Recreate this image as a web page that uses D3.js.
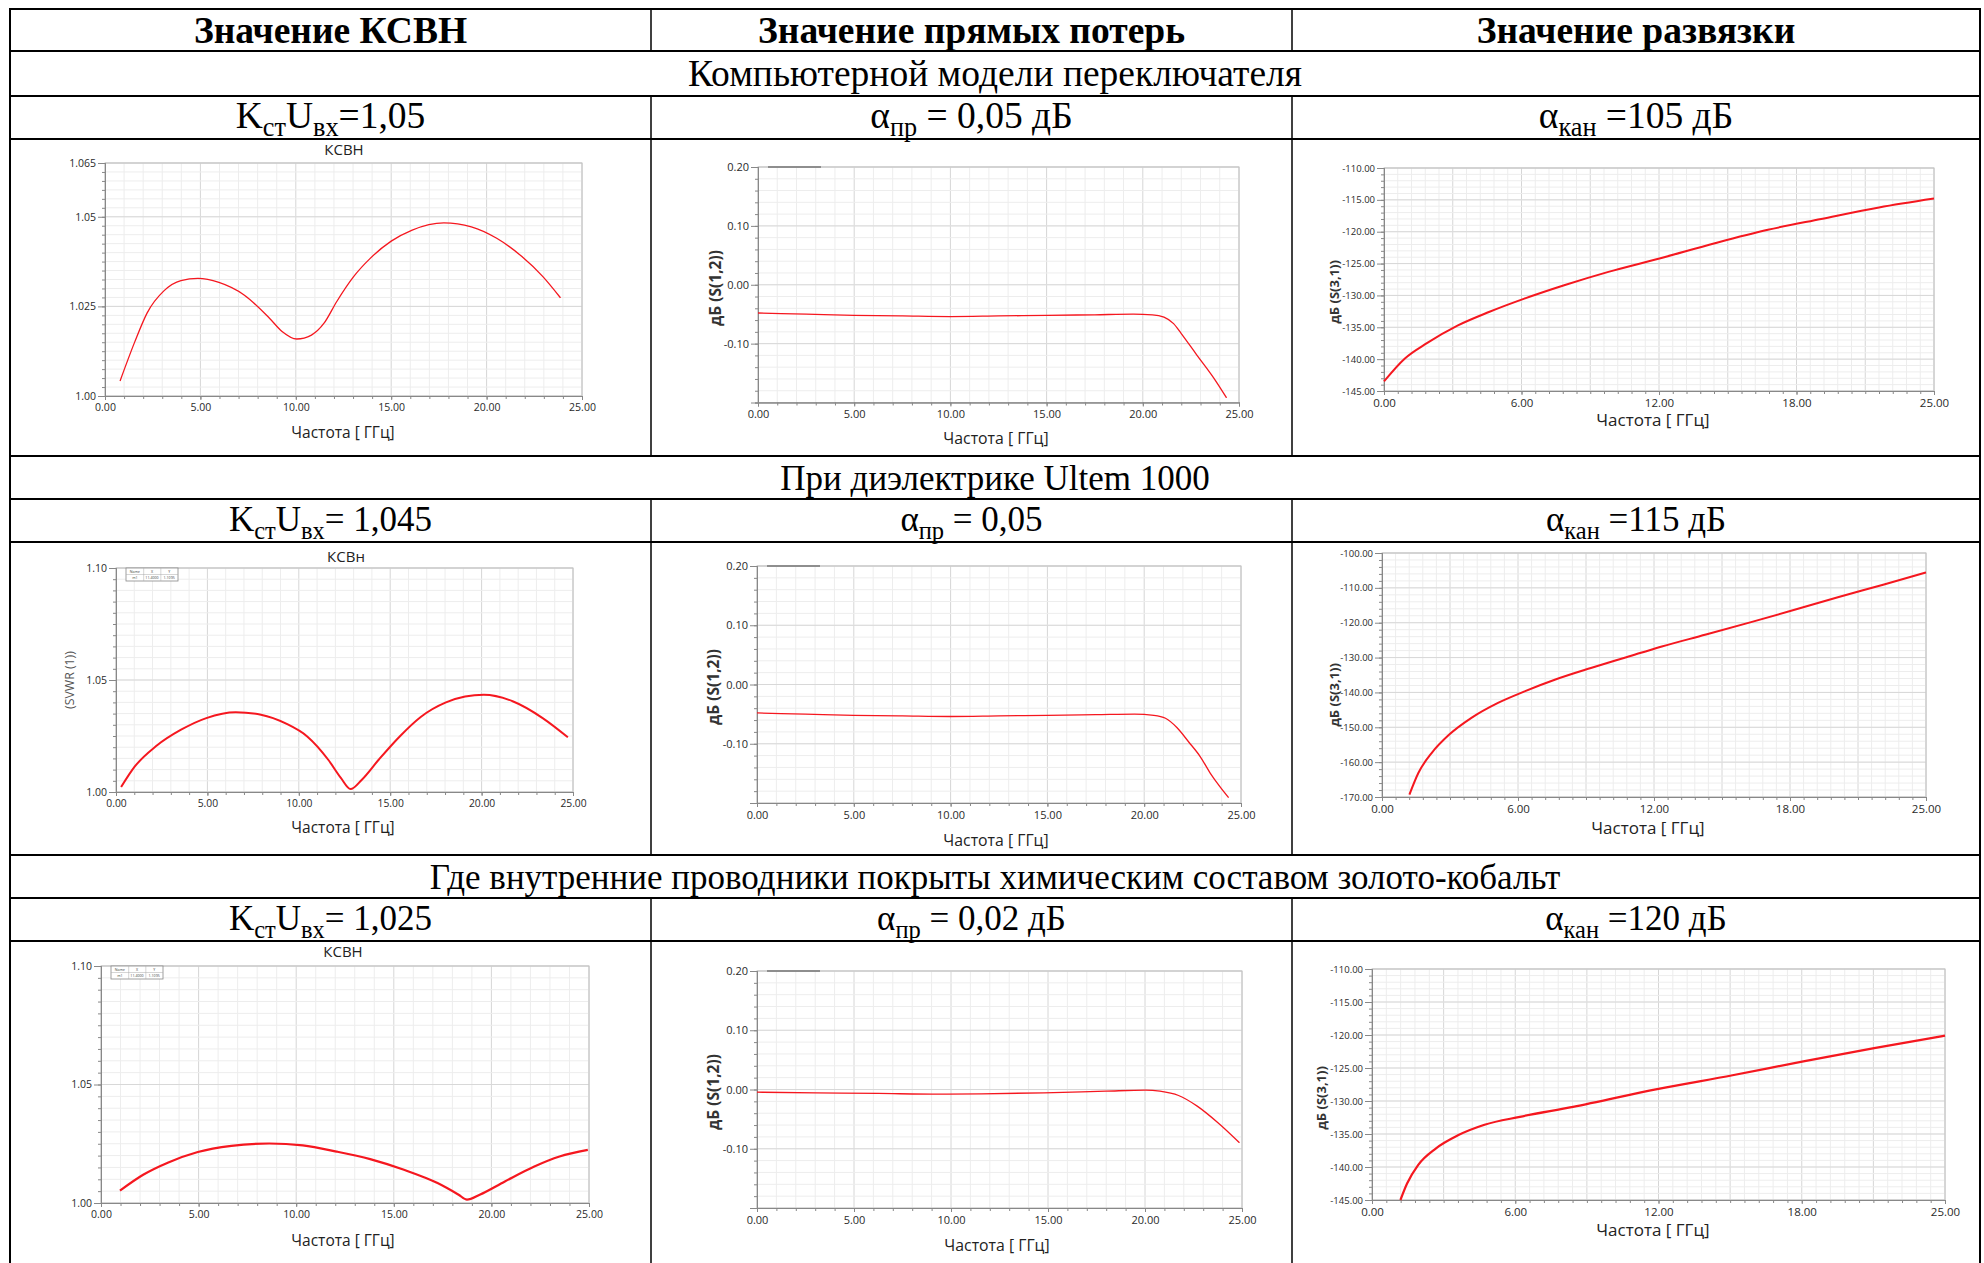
<!DOCTYPE html>
<html><head><meta charset="utf-8">
<script src="https://cdn.jsdelivr.net/npm/d3@7"></script>
<style>body{margin:0;background:#fff} svg{display:block}</style>
</head><body><svg id="c" width="1984" height="1263"></svg>
<script>
// ---------- table text ----------
const headers = ["Значение КСВН", "Значение прямых потерь", "Значение развязки"];
const sections = ["Компьютерной модели переключателя", "При диэлектрике Ultem 1000",
  "Где внутренние проводники покрыты химическим составом золото-кобальт"];
const ksvnValues = ["=1,05", "= 1,045", "= 1,025"];
const lossValues = [" = 0,05 дБ", " = 0,05", " = 0,02 дБ"];
const isoValues = [" =105 дБ", " =115 дБ", " =120 дБ"];

// ---------- tick labels ----------
const freqTicks = [0, 5, 10, 15, 20, 25];
const freqTickLabels = ["0.00", "5.00", "10.00", "15.00", "20.00", "25.00"];
const isoFreqTicks = [0, 6.25, 12.5, 18.75, 25];
const isoFreqTickLabels = ["0.00", "6.00", "12.00", "18.00", "25.00"];
const ksvnTicks1 = [1.0, 1.025, 1.05, 1.065];
const ksvnTickLabels1 = ["1.00", "1.025", "1.05", "1.065"];
const ksvnTicks2 = [1.0, 1.05, 1.1];
const ksvnTickLabels2 = ["1.00", "1.05", "1.10"];
const lossTicks = [-0.1, 0, 0.1, 0.2];
const lossTickLabels = ["-0.10", "0.00", "0.10", "0.20"];
const isoTicksA = [-145, -140, -135, -130, -125, -120, -115, -110];
const isoTickLabelsA = ["-145.00", "-140.00", "-135.00", "-130.00", "-125.00", "-120.00", "-115.00", "-110.00"];
const isoTicksB = [-170, -160, -150, -140, -130, -120, -110, -100];
const isoTickLabelsB = ["-170.00", "-160.00", "-150.00", "-140.00", "-130.00", "-120.00", "-110.00", "-100.00"];

// ---------- series (frequency in GHz) ----------
const freqKsvn1 = [0.79,1.56,2.21,3.1,3.98,4.87,5.97,7.29,8.62,9.28,10.05,10.82,11.48,12.14,13.03,13.9,15.0,16.1,17.76,19.2,20.53,21.85,22.95,23.87];
const ksvn1 = [1.0042,1.0151,1.0232,1.0294,1.0322,1.0328,1.0317,1.0282,1.0217,1.018,1.0159,1.017,1.0203,1.0263,1.0333,1.0384,1.0432,1.0463,1.0483,1.0472,1.044,1.0389,1.0333,1.0274];
const freqLoss1 = [0,2.5,5,7.5,10,12.5,15,17.5,19.5,20.5,21.1,21.6,22.0,22.8,23.7,24.35];
const loss1 = [-0.048,-0.050,-0.052,-0.053,-0.054,-0.053,-0.052,-0.051,-0.050,-0.051,-0.055,-0.066,-0.083,-0.119,-0.159,-0.192];
const freqIso1 = [0,0.95,1.95,3.36,4.77,6.38,8.19,10.2,12.52,15.04,17.45,19.87,22.5,25];
const iso1 = [-143.5,-139.9,-137.5,-134.7,-132.6,-130.5,-128.4,-126.3,-124.2,-121.8,-119.7,-118.0,-116.2,-114.8];

const freqKsvn2 = [0.28,1.03,2.18,3.56,4.94,6.55,7.93,9.31,10.46,11.61,12.3,12.83,13.45,14.37,15.52,16.67,18.05,19.1,20.12,21.73,23.34,24.72];
const ksvn2 = [1.0022,1.0114,1.0204,1.0278,1.033,1.0356,1.0345,1.0305,1.0248,1.0144,1.0063,1.0013,1.0055,1.0144,1.0248,1.0335,1.0400,1.0426,1.0434,1.0404,1.033,1.0244];
const freqLoss2 = [0,2.5,5,7.5,10,12.5,15,17.5,19.5,20.5,21.1,21.7,22.3,22.9,23.4,23.9,24.36];
const loss2 = [-0.048,-0.050,-0.052,-0.053,-0.054,-0.053,-0.052,-0.051,-0.050,-0.052,-0.057,-0.073,-0.097,-0.122,-0.149,-0.172,-0.191];
const freqIso2 = [1.26,1.67,2.28,3.09,4.11,5.33,6.55,7.97,9.6,11.23,12.86,14.89,16.92,18.96,20.99,23.03,25];
const iso2 = [-169.3,-163.1,-157.4,-152.1,-147.3,-143.0,-139.7,-136.3,-133.0,-129.9,-126.8,-123.4,-119.9,-116.3,-112.6,-109.1,-105.6];

const freqKsvn3 = [0.97,2.16,3.45,4.96,6.68,8.62,10.34,12.07,13.79,15.52,17.24,18.32,18.75,19.4,20.69,22.2,23.49,24.94];
const ksvn3 = [1.0052,1.0119,1.0171,1.0215,1.0241,1.0251,1.0243,1.0217,1.0185,1.014,1.0084,1.0035,1.0014,1.0035,1.0091,1.0154,1.0196,1.0224];
const freqLoss3 = [0,3.03,6.24,9.44,11.58,14.79,17.99,20.02,20.77,21.73,22.69,23.76,24.87];
const loss3 = [-0.0045,-0.0056,-0.0067,-0.0079,-0.0073,-0.0056,-0.0028,-0.0011,-0.0028,-0.0101,-0.028,-0.056,-0.0898];
const freqIso3 = [1.24,1.53,2.01,2.78,3.75,4.91,6.45,8.77,12.44,15.73,18.82,21.91,25];
const iso3 = [-145,-142.5,-139.7,-137.2,-135.2,-133.6,-132.4,-130.9,-128.2,-126.1,-124.0,-122.0,-120.1];

// ---------- layout ----------
const svg = d3.select("#c");
const colX = [10, 651, 1292, 1980];
const rowY = [9, 51, 96, 139, 456, 499, 542, 855, 898, 941, 1263];
const serif = "'Liberation Serif','Times New Roman',serif";
const sans = "'Open Sans','Noto Sans',sans-serif";
const sectionSize = [37.5, 35, 35];

function centerX(c) { return (colX[c] + colX[c + 1]) / 2; }

function richText(x, y, parts, size, bold) {
  const t = svg.append("text").attr("x", x).attr("y", y).attr("text-anchor", "middle")
    .style("font-family", serif).style("font-size", size + "px")
    .style("font-weight", bold ? "bold" : "normal").attr("fill", "#000");
  let shift = 0;
  const sh = size * 0.23;
  parts.forEach(p => {
    const ts = t.append("tspan").text(p.t);
    if (p.sub) { ts.attr("dy", sh - shift).style("font-size", (size * 0.7) + "px"); shift = sh; }
    else { ts.attr("dy", -shift); shift = 0; }
  });
}

// header
headers.forEach((h, i) => richText(centerX(i), (rowY[0] + rowY[1]) / 2 + 12.5, [{ t: h }], 37.5, true));
// sections & params
for (let s = 0; s < 3; s++) {
  const secTop = rowY[1 + s * 3], secBot = rowY[2 + s * 3], parBot = rowY[3 + s * 3];
  const fs = sectionSize[s];
  richText((colX[0] + colX[3]) / 2, (secTop + secBot) / 2 + 12, [{ t: sections[s] }], fs, false);
  const py = (secBot + parBot) / 2 + 10;
  richText(centerX(0), py, [{ t: "K" }, { t: "ст", sub: true }, { t: "U" }, { t: "вх", sub: true }, { t: ksvnValues[s] }], fs, false);
  richText(centerX(1), py, [{ t: "α" }, { t: "пр", sub: true }, { t: lossValues[s] }], fs, false);
  richText(centerX(2), py, [{ t: "α" }, { t: "кан", sub: true }, { t: isoValues[s] }], fs, false);
}

// ---------- charts ----------
const charts = [
  { box: [105,163,582,396], x: freqKsvn1, y: ksvn1, yDom: [1, 1.065], yMaj: ksvnTicks1, yLab: ksvnTickLabels1, yStep: 0.0025, iso: false,
    title: "КСВН", titlePos: [344, 150], xl: [343, 432], lw: 1.3, tfs: 10.5, xtfs: 10.5, xfs: 15.5 },
  { box: [758,167,1239,402.5], x: freqLoss1, y: loss1, yDom: [-0.2, 0.2], yMaj: lossTicks, yLab: lossTickLabels, yStep: 0.02, iso: false,
    xl: [996, 438], yl: [716, 288, "дБ (S(1,2))", 15.5, "bold", "#333"], lw: 1.3, greyLine: true, tfs: 11, xtfs: 11, xfs: 15.8 },
  { box: [1384,168,1934,391], x: freqIso1, y: iso1, yDom: [-145, -110], yMaj: isoTicksA, yLab: isoTickLabelsA, yStep: 1, iso: true,
    xl: [1653, 420], yl: [1334, 292, "дБ (S(3,1))", 13, "bold", "#333"], lw: 2, tfs: 9.5, xtfs: 11.5, xfs: 17 },
  { box: [116,568,573,792], x: freqKsvn2, y: ksvn2, yDom: [1, 1.1], yMaj: ksvnTicks2, yLab: ksvnTickLabels2, yStep: 0.005, iso: false,
    title: "КСВн", titlePos: [346, 557], xl: [343, 827], yl: [70, 680, "(SVWR (1))", 12.3, "normal", "#555"], lw: 2, legend: true, tfs: 10.5, xtfs: 10.3, xfs: 15.5 },
  { box: [757,566,1241,803], x: freqLoss2, y: loss2, yDom: [-0.2, 0.2], yMaj: lossTicks, yLab: lossTickLabels, yStep: 0.02, iso: false,
    xl: [996, 840], yl: [714, 687, "дБ (S(1,2))", 15.5, "bold", "#333"], lw: 1.3, greyLine: true, tfs: 11, xtfs: 11, xfs: 15.8 },
  { box: [1382,553,1926,797], x: freqIso2, y: iso2, yDom: [-170, -100], yMaj: isoTicksB, yLab: isoTickLabelsB, yStep: 2, iso: true,
    xl: [1648, 828], yl: [1334, 695, "дБ (S(3,1))", 13, "bold", "#333"], lw: 2, tfs: 9.5, xtfs: 11.5, xfs: 17 },
  { box: [101,966,589,1203], x: freqKsvn3, y: ksvn3, yDom: [1, 1.1], yMaj: ksvnTicks2, yLab: ksvnTickLabels2, yStep: 0.005, iso: false,
    title: "КСВН", titlePos: [343, 952], xl: [343, 1240], lw: 2.2, legend: true, tfs: 10.5, xtfs: 10.5, xfs: 15.5 },
  { box: [757,971,1242,1208], x: freqLoss3, y: loss3, yDom: [-0.2, 0.2], yMaj: lossTicks, yLab: lossTickLabels, yStep: 0.02, iso: false,
    xl: [997, 1245], yl: [714, 1092, "дБ (S(1,2))", 15.5, "bold", "#333"], lw: 1.3, greyLine: true, tfs: 11, xtfs: 11, xfs: 15.8 },
  { box: [1372,969,1945,1200], x: freqIso3, y: iso3, yDom: [-145, -110], yMaj: isoTicksA, yLab: isoTickLabelsA, yStep: 1, iso: true,
    xl: [1653, 1230], yl: [1321, 1098, "дБ (S(3,1))", 13, "bold", "#333"], lw: 2.2, tfs: 9.5, xtfs: 11.5, xfs: 17 }
];

function drawChart(c) {
  const [L, T, R, B] = c.box;
  const g = svg.append("g");
  const xs = d3.scaleLinear().domain([0, 25]).range([L, R]);
  const ys = d3.scaleLinear().domain(c.yDom).range([B, T]);
  const xMaj = c.iso ? isoFreqTicks : freqTicks;
  const xLab = c.iso ? isoFreqTickLabels : freqTickLabels;
  const xStep = c.iso ? 0.625 : 1;
  const xMin = d3.range(0, 25 + 1e-9, xStep);
  const yMin = d3.range(c.yDom[0], c.yDom[1] + 1e-9, c.yStep);

  // grid
  g.append("g").selectAll("line").data(xMin).join("line")
    .attr("x1", d => xs(d)).attr("x2", d => xs(d)).attr("y1", T).attr("y2", B)
    .attr("stroke", (d, i) => (i % 5 === 0) ? "#d6d6d6" : "#ededed").attr("stroke-width", 1);
  g.append("g").selectAll("line").data(yMin).join("line")
    .attr("y1", d => ys(d)).attr("y2", d => ys(d)).attr("x1", L).attr("x2", R)
    .attr("stroke", "#ededed").attr("stroke-width", 1);
  g.append("g").selectAll("line").data(c.yMaj).join("line")
    .attr("y1", d => ys(d)).attr("y2", d => ys(d)).attr("x1", L).attr("x2", R)
    .attr("stroke", "#d8d8d8").attr("stroke-width", 1);
  g.append("rect").attr("x", L).attr("y", T).attr("width", R - L).attr("height", B - T)
    .attr("fill", "none").attr("stroke", "#c0c0c0").attr("stroke-width", 1);

  // axes
  const ax = g.append("g").attr("transform", `translate(0,${B})`)
    .call(d3.axisBottom(xs).tickValues(xMaj).tickFormat((d, i) => xLab[i]).tickSize(4).tickPadding(4));
  const axm = g.append("g").attr("transform", `translate(0,${B})`)
    .call(d3.axisBottom(xs).tickValues(xMin).tickFormat("").tickSize(3));
  const ay = g.append("g").attr("transform", `translate(${L},0)`)
    .call(d3.axisLeft(ys).tickValues(c.yMaj).tickFormat((d, i) => c.yLab[i]).tickSize(7).tickPadding(2));
  const aym = g.append("g").attr("transform", `translate(${L},0)`)
    .call(d3.axisLeft(ys).tickValues(yMin).tickFormat("").tickSize(3));
  [ax, axm, ay, aym].forEach(a => {
    a.select(".domain").attr("stroke", "#888");
    a.selectAll(".tick line").attr("stroke", "#888");
    a.selectAll("text").attr("fill", "#2a2a2a").style("font-family", sans);
  });
  ay.selectAll("text").style("font-size", c.tfs + "px");
  ax.selectAll("text").style("font-size", c.xtfs + "px");

  // curve
  const line = d3.line().x((d, i) => xs(c.x[i])).y(d => ys(d)).curve(d3.curveMonotoneX);
  g.append("path").datum(c.y).attr("d", line).attr("fill", "none")
    .attr("stroke", "#f5171f").attr("stroke-width", c.lw).attr("stroke-linejoin", "round");

  // labels
  g.append("text").attr("x", c.xl[0]).attr("y", c.xl[1]).attr("dy", "0.36em").attr("text-anchor", "middle")
    .style("font-family", sans).style("font-size", c.xfs + "px").attr("fill", "#222")
    .text("Частота [ ГГц]");
  if (c.title) {
    g.append("text").attr("x", c.titlePos[0]).attr("y", c.titlePos[1]).attr("dy", "0.36em").attr("text-anchor", "middle")
      .style("font-family", sans).style("font-size", "15px").attr("fill", "#222").text(c.title);
  }
  if (c.yl) {
    g.append("text").attr("transform", `translate(${c.yl[0]},${c.yl[1]}) rotate(-90)`)
      .attr("text-anchor", "middle").attr("dy", "0.35em")
      .style("font-family", sans).style("font-size", c.yl[3] + "px").style("font-weight", c.yl[4])
      .attr("fill", c.yl[5]).text(c.yl[2]);
  }
  if (c.greyLine) {
    g.append("line").attr("x1", L + 10).attr("x2", L + 63).attr("y1", T).attr("y2", T)
      .attr("stroke", "#777").attr("stroke-width", 1.5);
  }
  if (c.legend) {
    const lx = L + 10, ly = T, lw = 52, lh = 13;
    const lg = g.append("g");
    lg.append("rect").attr("x", lx).attr("y", ly).attr("width", lw).attr("height", lh)
      .attr("fill", "#fff").attr("stroke", "#888").attr("stroke-width", 0.8);
    lg.append("line").attr("x1", lx).attr("x2", lx + lw).attr("y1", ly + lh / 2).attr("y2", ly + lh / 2).attr("stroke", "#aaa").attr("stroke-width", 0.5);
    [lw * 0.34, lw * 0.67].forEach(dx => lg.append("line").attr("x1", lx + dx).attr("x2", lx + dx).attr("y1", ly).attr("y2", ly + lh).attr("stroke", "#aaa").attr("stroke-width", 0.5));
    const cells = [["Name", "X", "Y"], ["m1", "11.4000", "1.1095"]];
    cells.forEach((row, r) => row.forEach((txt, k) => {
      lg.append("text").attr("x", lx + lw * (0.17 + 0.33 * k)).attr("y", ly + 4.8 + r * 6.3).attr("text-anchor", "middle")
        .style("font-family", sans).style("font-size", "3.6px").attr("fill", "#444").text(txt);
    }));
  }
}
charts.forEach(drawChart);

// ---------- table borders ----------
const border = svg.append("g").attr("stroke", "#000");
rowY.slice(0, -1).forEach(y => border.append("line").attr("x1", colX[0] - 1).attr("x2", colX[3] + 1).attr("y1", y).attr("y2", y).attr("stroke-width", 2));
[colX[0], colX[3]].forEach(x => border.append("line").attr("x1", x).attr("x2", x).attr("y1", rowY[0]).attr("y2", 1263).attr("stroke-width", 2));
[colX[1], colX[2]].forEach(x => {
  [[0, 1], [2, 4], [5, 7], [8, 10]].forEach(([a, b]) => border.append("line").attr("x1", x).attr("x2", x)
    .attr("y1", rowY[a]).attr("y2", rowY[b]).attr("stroke-width", 1.5));
});
</script></body></html>
